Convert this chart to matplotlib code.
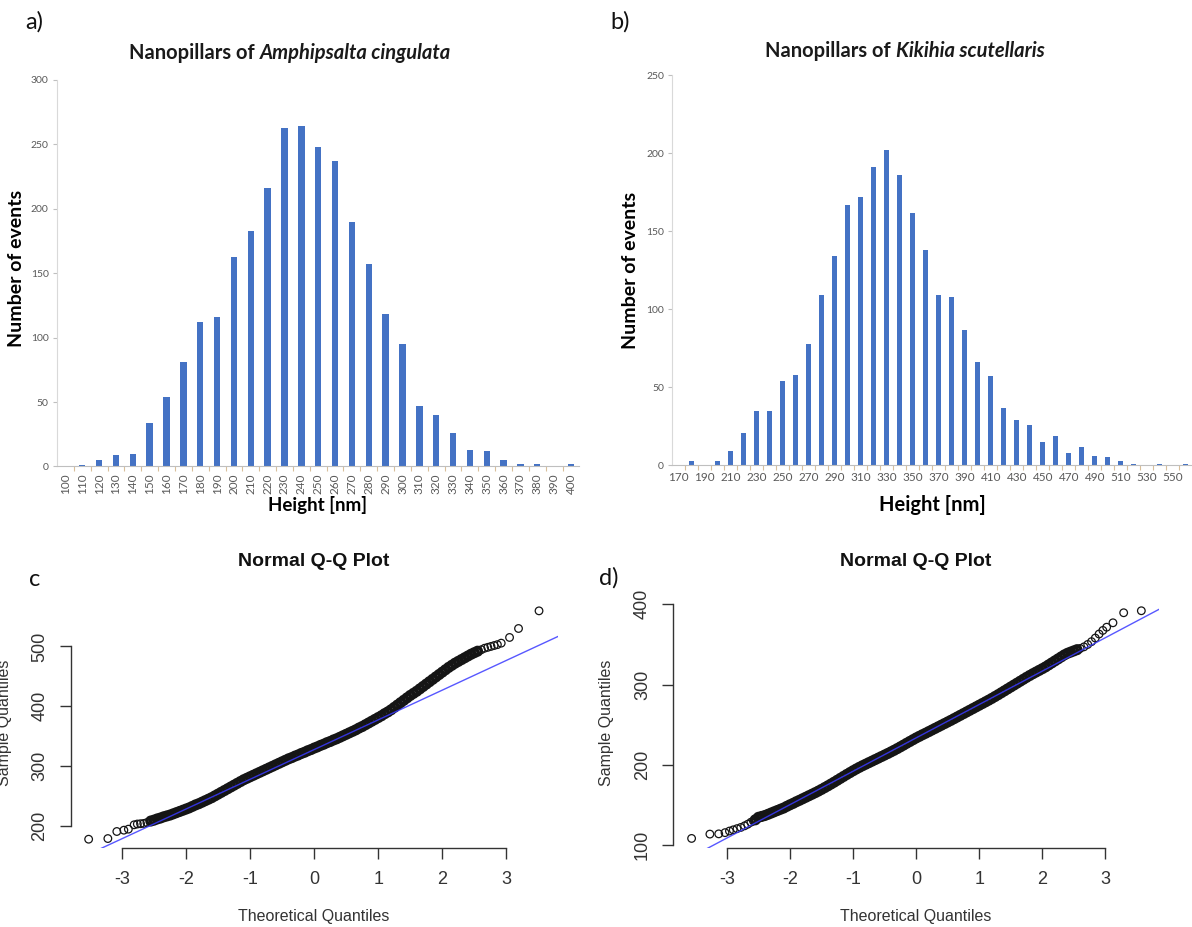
import matplotlib
matplotlib.use('Agg')
import matplotlib.pyplot as plt
from matplotlib.offsetbox import TextArea, HPacker, AnnotationBbox
from matplotlib.ticker import FixedLocator

# ---------------- data ----------------
a_heights = [100, 110, 120, 130, 140, 150, 160, 170, 180, 190, 200, 210, 220, 230, 240,
             250, 260, 270, 280, 290, 300, 310, 320, 330, 340, 350, 360, 370, 380, 390, 400]
a_counts = [0, 1, 5, 9, 10, 34, 54, 81, 112, 116, 163, 183, 216, 263, 264,
            248, 237, 190, 157, 118, 95, 47, 40, 26, 13, 12, 5, 2, 2, 0, 2]

b_heights = [170, 180, 190, 200, 210, 220, 230, 240, 250, 260, 270, 280, 290, 300,
             310, 320, 330, 340, 350, 360, 370, 380, 390, 400, 410, 420, 430, 440,
             450, 460, 470, 480, 490, 500, 510, 520, 530, 540, 550, 560]
b_counts = [0, 3, 0, 3, 9, 21, 35, 35, 54, 58, 78, 109, 134, 167,
            172, 191, 202, 186, 162, 138, 109, 108, 87, 66, 57, 37, 29, 26,
            15, 19, 8, 12, 6, 5, 3, 1, 0, 1, 0, 1]

# Q-Q plot c: theoretical quantiles and sample quantiles
c_theo = [-3.52, -3.22, -3.08, -2.97, -2.90, -2.81, -2.76, -2.71, -2.66, -2.61,
          -2.55, -2.50, -2.45, -2.40, -2.35, -2.30, -2.25, -2.20, -2.15, -2.10,
          -2.05, -2.00, -1.95, -1.90, -1.85, -1.80, -1.75, -1.70, -1.65, -1.60,
          -1.55, -1.50, -1.45, -1.40, -1.35, -1.30, -1.25, -1.20, -1.15, -1.10,
          -1.05, -1.00, -0.95, -0.90, -0.85, -0.80, -0.75, -0.70, -0.65, -0.60,
          -0.55, -0.50, -0.45, -0.40, -0.35, -0.30, -0.25, -0.20, -0.15, -0.10,
          -0.05, 0.00, 0.05, 0.10, 0.15, 0.20, 0.25, 0.30, 0.35, 0.40,
          0.45, 0.50, 0.55, 0.60, 0.65, 0.70, 0.75, 0.80, 0.85, 0.90,
          0.95, 1.00, 1.05, 1.10, 1.15, 1.20, 1.25, 1.30, 1.35, 1.40,
          1.45, 1.50, 1.55, 1.60, 1.65, 1.70, 1.75, 1.80, 1.85, 1.90,
          1.95, 2.00, 2.05, 2.10, 2.15, 2.20, 2.25, 2.30, 2.35, 2.40,
          2.45, 2.50, 2.55, 2.61, 2.66, 2.71, 2.76, 2.81, 2.86, 2.92,
          3.05, 3.19, 3.51]
c_sample = [177.6, 178.7, 190.5, 192.7, 194.4, 201.7, 203.0, 203.5, 204.0, 205.5,
            208.0, 209.5, 211.5, 213.0, 215.0, 216.5, 218.0, 220.0, 222.0, 224.0,
            226.0, 228.0, 230.0, 232.5, 235.0, 237.0, 239.5, 242.0, 244.5, 247.0,
            250.0, 253.0, 256.0, 259.0, 262.0, 265.0, 268.0, 271.0, 274.0, 277.0,
            279.5, 282.0, 284.5, 287.0, 289.5, 292.0, 294.5, 297.0, 299.5, 302.0,
            304.5, 307.0, 309.5, 312.0, 314.0, 316.5, 318.5, 321.0, 323.0, 325.5,
            327.5, 330.0, 332.0, 334.5, 336.5, 339.0, 341.0, 343.5, 345.5, 348.0,
            350.5, 353.0, 355.5, 358.0, 360.5, 363.5, 366.0, 369.0, 372.0, 375.0,
            378.0, 381.0, 384.0, 387.5, 390.5, 394.0, 398.0, 402.0, 406.0, 410.0,
            414.0, 418.0, 421.5, 425.0, 429.0, 433.0, 437.0, 441.0, 445.0, 449.0,
            453.0, 457.0, 461.0, 465.0, 468.5, 472.0, 475.0, 478.0, 481.0, 484.0,
            487.0, 489.5, 492.0, 494.5, 497.0, 498.5, 500.0, 501.5, 503.0, 505.5,
            515.0, 530.0, 559.5]
c_line_intercept = 327.5
c_line_slope = 49.7

# Q-Q plot d
d_theo = [-3.56, -3.27, -3.13, -3.03, -2.96, -2.90, -2.84, -2.78, -2.72, -2.67,
          -2.62, -2.58,
          -2.55, -2.50, -2.45, -2.40, -2.35, -2.30, -2.25, -2.20, -2.15, -2.10,
          -2.05, -2.00, -1.95, -1.90, -1.85, -1.80, -1.75, -1.70, -1.65, -1.60,
          -1.55, -1.50, -1.45, -1.40, -1.35, -1.30, -1.25, -1.20, -1.15, -1.10,
          -1.05, -1.00, -0.95, -0.90, -0.85, -0.80, -0.75, -0.70, -0.65, -0.60,
          -0.55, -0.50, -0.45, -0.40, -0.35, -0.30, -0.25, -0.20, -0.15, -0.10,
          -0.05, 0.00, 0.05, 0.10, 0.15, 0.20, 0.25, 0.30, 0.35, 0.40,
          0.45, 0.50, 0.55, 0.60, 0.65, 0.70, 0.75, 0.80, 0.85, 0.90,
          0.95, 1.00, 1.05, 1.10, 1.15, 1.20, 1.25, 1.30, 1.35, 1.40,
          1.45, 1.50, 1.55, 1.60, 1.65, 1.70, 1.75, 1.80, 1.85, 1.90,
          1.95, 2.00, 2.05, 2.10, 2.15, 2.20, 2.25, 2.30, 2.35, 2.40,
          2.45, 2.50, 2.55, 2.60, 2.66, 2.72, 2.78, 2.84, 2.90, 2.96,
          3.02, 3.12, 3.29, 3.57]
d_sample = [108.3, 113.7, 114.0, 115.5, 117.5, 119.0, 120.5, 122.0, 124.0, 126.0,
            128.5, 130.0,
            131.5, 134.6, 135.7, 136.8, 138.3, 139.9, 141.5, 143.1, 144.7, 146.2,
            148.3, 150.2, 152.0, 154.0, 155.8, 157.7, 159.6, 161.5, 163.4, 165.3,
            167.3, 169.4, 171.6, 173.8, 176.1, 178.4, 180.8, 183.2, 185.6, 188.0,
            190.3, 192.6, 194.8, 196.9, 198.9, 200.8, 202.7, 204.6, 206.5, 208.4,
            210.3, 212.2, 214.1, 216.1, 218.1, 220.2, 222.4, 224.6, 226.9, 229.1,
            231.3, 233.5, 235.5, 237.5, 239.4, 241.4, 243.4, 245.4, 247.4, 249.4,
            251.4, 253.4, 255.4, 257.5, 259.6, 261.7, 263.8, 265.9, 268.0, 270.1,
            272.2, 274.3, 276.4, 278.5, 280.6, 282.8, 285.1, 287.4, 289.8, 292.2,
            294.6, 297.0, 299.4, 301.8, 304.2, 306.6, 309.0, 311.3, 313.5, 315.6,
            317.7, 319.8, 322.0, 324.5, 327.0, 329.5, 332.0, 334.5, 337.0, 339.0,
            340.5, 342.0, 343.5, 345.0, 347.0, 350.0, 353.5, 358.0, 363.0, 367.5,
            371.5, 377.0, 389.5, 392.0]
d_line_intercept = 233.6
d_line_slope = 41.6

# ---------------- figure ----------------
W, H = 1192, 927
fig = plt.figure(figsize=(W / 100, H / 100), dpi=100)
fig.patch.set_facecolor('white')


def px_axes(l, t, r, b):
    return fig.add_axes([l / W, 1 - b / H, (r - l) / W, (b - t) / H])


def ftext(x, y, s, **kw):
    return fig.text(x / W, 1 - y / H, s, **kw)


XL = 'Lato'
BAR = '#4472C4'
TICKC = '#595959'


def excel_hist(ax, cats, counts, ymax, ystep, label_every, rot):
    idx = list(range(len(cats)))
    ax.bar(idx, counts, width=0.38, color=BAR, zorder=2)
    ax.set_xlim(-0.5, len(cats) - 0.5)
    ax.set_ylim(0, ymax)
    ax.set_yticks(list(range(0, ymax + 1, ystep)))
    ax.set_xticks(idx[::label_every])
    ax.set_xticklabels([str(c) for c in cats[::label_every]], rotation=rot)
    ax.xaxis.set_minor_locator(FixedLocator([i + 0.5 for i in idx[:-1]]))
    for s in ['top', 'right']:
        ax.spines[s].set_visible(False)
    ax.spines['left'].set_color('#d9d9d9')
    ax.spines['bottom'].set_color('#bfbfbf')
    ax.spines['left'].set_linewidth(0.8)
    ax.spines['bottom'].set_linewidth(0.8)
    ax.tick_params(axis='x', which='major', length=0, pad=5, labelsize=8.5,
                   labelcolor=TICKC)
    ax.tick_params(axis='x', which='minor', length=3.5, color='#d9bf9a', width=0.8)
    ax.tick_params(axis='y', length=3, color='#bfbfbf', labelsize=7.5,
                   labelcolor=TICKC, pad=3)
    for lab in ax.get_xticklabels() + ax.get_yticklabels():
        lab.set_family(XL)


def title_mixed(x, y, plain, italic, size):
    t1 = TextArea(plain, textprops=dict(family=XL, weight='bold', size=size,
                                        color='#1a1a1a'))
    t2 = TextArea(italic, textprops=dict(family=XL, weight='bold', style='italic',
                                         size=size, color='#1a1a1a'))
    pack = HPacker(children=[t1, t2], align='baseline', pad=0, sep=4)
    ab = AnnotationBbox(pack, (x / W, 1 - y / H), xycoords='figure fraction',
                        frameon=False, box_alignment=(0.5, 0.5))
    fig.add_artist(ab)


# panel a
ax_a = px_axes(57, 80, 579.4, 466.5)
excel_hist(ax_a, a_heights, a_counts, 300, 50, 1, 90)
title_mixed(290, 53, 'Nanopillars of', 'Amphipsalta cingulata', 14.5)
ftext(17, 268, 'Number of events', family=XL, weight='bold', size=14,
      rotation=90, ha='center', va='center')
ftext(318, 505, 'Height [nm]', family=XL, weight='bold', size=13.5,
      ha='center', va='center')

# panel b
ax_b = px_axes(672.3, 75.3, 1192.3, 465.3)
excel_hist(ax_b, b_heights, b_counts, 250, 50, 2, 0)
title_mixed(905, 51, 'Nanopillars of', 'Kikihia scutellaris', 14.5)
ftext(630, 270, 'Number of events', family=XL, weight='bold', size=14,
      rotation=90, ha='center', va='center')
ftext(932, 505, 'Height [nm]', family=XL, weight='bold', size=14.5,
      ha='center', va='center')

# panel letters
for (x, y, s) in [(34, 22, 'a)'), (620, 22, 'b)'), (35, 580, 'c'), (609, 578, 'd)')]:
    ftext(x, y, s, family=XL, size=17, ha='center', va='center', color='#111111')

RF = 'Liberation Sans'


def qq(ax, theo, sample, b0, b1, xlim, ylim, yticks):
    # dense central quantiles overlap into a solid band, tails stay as open rings
    lws = [2.5 if abs(t) <= 2.56 else 0.9 for t in theo]
    ax.scatter(theo, sample, s=30, facecolors='none', edgecolors='#151515',
               linewidths=lws, zorder=2, clip_on=False)
    ax.axline((0, b0), slope=b1, color='#3a3aff', lw=1.0, zorder=3, alpha=0.85)
    ax.set_xlim(*xlim)
    ax.set_ylim(*ylim)
    ax.set_xticks([-3, -2, -1, 0, 1, 2, 3])
    ax.set_xticklabels(['-3', '-2', '-1', '0', '1', '2', '3'])
    ax.set_yticks(yticks)
    for s in ['top', 'right']:
        ax.spines[s].set_visible(False)
    ax.spines['bottom'].set_bounds(-3, 3)
    ax.spines['left'].set_bounds(yticks[0], yticks[-1])
    for s in ['left', 'bottom']:
        ax.spines[s].set_color('#333333')
        ax.spines[s].set_linewidth(1.0)
    ax.tick_params(length=8, width=1.0, color='#333333', labelsize=13,
                   labelcolor='#333333', pad=8)
    for lab in ax.get_yticklabels():
        lab.set_rotation(90)
        lab.set_va('center')
    for lab in ax.get_xticklabels() + ax.get_yticklabels():
        lab.set_family(RF)
    ax.patch.set_alpha(0)


ax_c = px_axes(70.7, 602, 557.6, 848.3)
qq(ax_c, c_theo, c_sample, c_line_intercept, c_line_slope, (-3.80, 3.80),
   (162.4, 574.3), [200, 300, 400, 500])
ax_d = px_axes(673.3, 601.6, 1159, 848.3)
qq(ax_d, d_theo, d_sample, d_line_intercept, d_line_slope, (-3.85, 3.85),
   (96.0, 403.4), [100, 200, 300, 400])

for cx in (314, 916):
    ftext(cx, 562, 'Normal Q-Q Plot', family=RF, weight='bold', size=14,
          ha='center', va='center', color='#111111')
    ftext(cx, 916, 'Theoretical Quantiles', family=RF, size=11.5,
          ha='center', va='center', color='#333333')
for sx in (5, 606):
    ftext(sx, 723, 'Sample Quantiles', family=RF, size=11.5, rotation=90,
          ha='center', va='center', color='#333333')

fig.savefig('out.png', dpi=100)
